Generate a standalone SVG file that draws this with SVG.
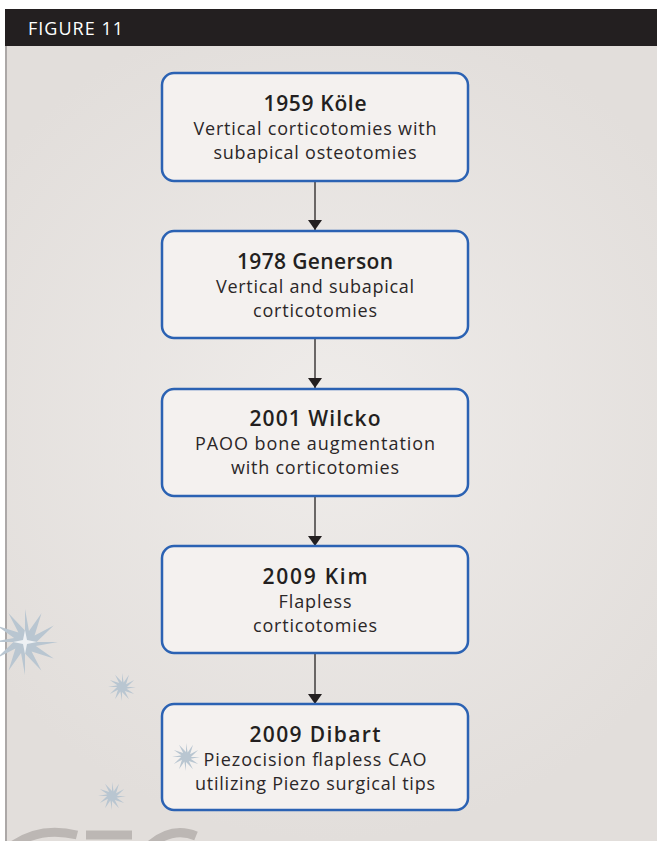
<svg xmlns="http://www.w3.org/2000/svg" width="657" height="841" viewBox="0 0 657 841">
<defs>
<radialGradient id="bg" cx="330" cy="420" r="420" gradientUnits="userSpaceOnUse">
<stop offset="0" stop-color="#efecea"/>
<stop offset="1" stop-color="#e2dedb"/>
</radialGradient>
<marker id="ah" viewBox="0 0 10 14" refX="10" refY="7" markerWidth="10" markerHeight="14" markerUnits="userSpaceOnUse" orient="auto">
<path d="M0,0 L10,7 L0,14 z" fill="#231f20"/>
</marker>
<path id="star12" d="M0,-1 L0.12,-0.33 L0.5,-0.87 L0.29,-0.2 L0.87,-0.5 L0.35,0 L1,0 L0.33,0.12 L0.87,0.5 L0.2,0.29 L0.5,0.87 L0,0.35 L0,1 L-0.12,0.33 L-0.5,0.87 L-0.29,0.2 L-0.87,0.5 L-0.35,0 L-1,0 L-0.33,-0.12 L-0.87,-0.5 L-0.2,-0.29 L-0.5,-0.87 L0,-0.35 z"/>
</defs>
<style>
.box{fill:#f4f1ef;stroke:#2b62b3;stroke-width:2.5}
.t{fill:#231f20;text-anchor:middle}
.h{font-family:"Open Sans","Liberation Sans",sans-serif;font-size:21px;font-weight:600}
.s{font-family:"Open Sans","Liberation Sans",sans-serif;font-size:18px;fill:#2b2728}
.star{fill:#b9c6d1}
.wm{fill:none;stroke:#bcb7b4;stroke-width:9}
</style>
<rect x="0" y="0" width="657" height="841" fill="#ffffff"/>
<rect x="5" y="46" width="652" height="795" fill="url(#bg)"/>
<line x1="6" y1="46" x2="6" y2="841" stroke="#9a9696" stroke-width="1.5"/>
<rect x="5" y="9" width="652" height="37" fill="#231f20"/>
<text x="28" y="35" font-family="Open Sans, Liberation Sans, sans-serif" font-size="18" font-weight="500" fill="#ffffff" textLength="95" lengthAdjust="spacing">FIGURE 11</text>
<g id="decor">
<use href="#star12" class="star" transform="translate(25,642) scale(33)"/>
<path d="M25,630 L27,640 L37,642 L27,644 L25,654 L23,644 L13,642 L23,640 z" fill="#eef1f4"/>
<use href="#star12" class="star" transform="translate(122,687) scale(14)"/>
<use href="#star12" class="star" transform="translate(112,796) scale(14)"/>
<path class="wm" d="M12,846 Q40,826 77,835"/>
<path class="wm" d="M86,835 L132,835"/>
<path class="wm" d="M149,846 Q172,826 196,836"/>
</g>
<g id="connectors">
<line x1="315" y1="181" x2="315" y2="230" stroke="#4a4646" stroke-width="1.6" marker-end="url(#ah)"/>
<line x1="315" y1="338" x2="315" y2="388" stroke="#4a4646" stroke-width="1.6" marker-end="url(#ah)"/>
<line x1="315" y1="497" x2="315" y2="546" stroke="#4a4646" stroke-width="1.6" marker-end="url(#ah)"/>
<line x1="315" y1="653" x2="315" y2="704" stroke="#4a4646" stroke-width="1.6" marker-end="url(#ah)"/>
</g>
<g id="n1">
<rect class="box" x="162" y="73" width="306" height="108" rx="12"/>
<text class="t h" x="315" y="111" textLength="103" lengthAdjust="spacing">1959 Köle</text>
<text class="t s" x="315" y="135" textLength="243" lengthAdjust="spacing">Vertical corticotomies with</text>
<text class="t s" x="315" y="159" textLength="203" lengthAdjust="spacing">subapical osteotomies</text>
</g>
<g id="n2">
<rect class="box" x="162" y="231" width="306" height="107" rx="12"/>
<text class="t h" x="315" y="269" textLength="156" lengthAdjust="spacing">1978 Generson</text>
<text class="t s" x="315" y="293" textLength="198" lengthAdjust="spacing">Vertical and subapical</text>
<text class="t s" x="315" y="317" textLength="124" lengthAdjust="spacing">corticotomies</text>
</g>
<g id="n3">
<rect class="box" x="162" y="389" width="306" height="107" rx="12"/>
<text class="t h" x="315" y="426" textLength="131" lengthAdjust="spacing">2001 Wilcko</text>
<text class="t s" x="315" y="450" textLength="240" lengthAdjust="spacing">PAOO bone augmentation</text>
<text class="t s" x="315" y="474" textLength="168" lengthAdjust="spacing">with corticotomies</text>
</g>
<g id="n4">
<rect class="box" x="162" y="546" width="306" height="107" rx="12"/>
<text class="t h" x="315" y="584" textLength="105" lengthAdjust="spacing">2009 Kim</text>
<text class="t s" x="315" y="608" textLength="73" lengthAdjust="spacing">Flapless</text>
<text class="t s" x="315" y="632" textLength="124" lengthAdjust="spacing">corticotomies</text>
</g>
<g id="n5">
<rect class="box" x="162" y="704" width="306" height="106" rx="12"/>
<text class="t h" x="315" y="742" textLength="131" lengthAdjust="spacing">2009 Dibart</text>
<text class="t s" x="315" y="766" textLength="223" lengthAdjust="spacing">Piezocision flapless CAO</text>
<text class="t s" x="315" y="790" textLength="240" lengthAdjust="spacing">utilizing Piezo surgical tips</text>
<use href="#star12" class="star" transform="translate(186,757) scale(14)"/>
</g>
</svg>
